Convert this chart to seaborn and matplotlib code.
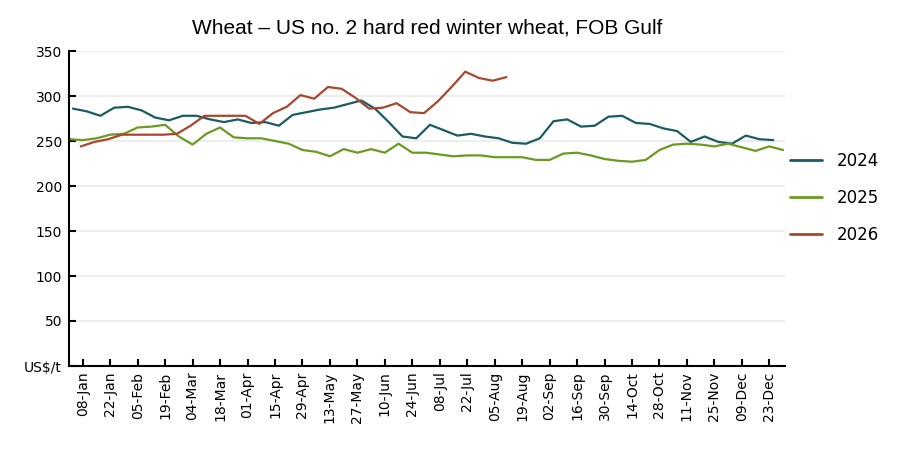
import numpy as np
import pandas as pd
import matplotlib
matplotlib.use("Agg")
import matplotlib.pyplot as plt
import seaborn as sns

# Weekly prices, US$/t
start_2024 = "2024-01-03"
start_2025 = "2025-01-01"
start_2026 = "2026-01-07"

price_2024 = [286, 283, 278, 287, 288, 284, 276, 273, 278, 278, 274, 271, 274,
              270, 271, 267, 279, 282, 285, 287, 291, 295, 286, 271, 255, 253,
              268, 262, 256, 258, 255, 253, 248, 247, 253, 272, 274, 266, 267,
              277, 278, 270, 269, 264, 261, 249, 255, 249, 247, 256, 252, 251]

price_2025 = [252, 251, 253, 257, 258, 265, 266, 268, 255, 246, 258, 265, 254,
              253, 253, 250, 247, 240, 238, 233, 241, 237, 241, 237, 247, 237,
              237, 235, 233, 234, 234, 232, 232, 232, 229, 229, 236, 237, 234,
              230, 228, 227, 229, 240, 246, 247, 246, 244, 247, 243, 239, 244,
              240]

price_2026 = [244, 249, 252, 257, 257, 257, 257, 258, 267, 278, 278, 278, 278,
              269, 281, 288, 301, 297, 310, 308, 298, 286, 287, 292, 282, 281,
              294, 310, 327, 320, 317, 321]

tick_labels = ["08-Jan", "22-Jan", "05-Feb", "19-Feb", "04-Mar", "18-Mar",
               "01-Apr", "15-Apr", "29-Apr", "13-May", "27-May", "10-Jun",
               "24-Jun", "08-Jul", "22-Jul", "05-Aug", "19-Aug", "02-Sep",
               "16-Sep", "30-Sep", "14-Oct", "28-Oct", "11-Nov", "25-Nov",
               "09-Dec", "23-Dec"]

colors = {"2024": "#1b5c62", "2025": "#6b9a22", "2026": "#a8472e"}


def year_frame(start, values, label):
    dates = pd.date_range(start, periods=len(values), freq="7D")
    return pd.DataFrame({"day": dates.dayofyear - 1,
                         "price": values,
                         "year": label})


df = pd.concat([
    year_frame(start_2024, price_2024, "2024"),
    year_frame(start_2025, price_2025, "2025"),
    year_frame(start_2026, price_2026, "2026"),
], ignore_index=True)

tick_days = pd.to_datetime([d + "-2024" for d in tick_labels],
                           format="%d-%b-%Y").dayofyear - 1

sns.set_theme(style="white")
plt.rcParams["font.family"] = ["DejaVu Sans"]

fig = plt.figure(figsize=(9, 4.5), dpi=100)
ax = fig.add_axes([69 / 900, 1 - 366 / 450, (785 - 69) / 900, (366 - 51) / 450])

sns.lineplot(data=df, x="day", y="price", hue="year", palette=colors,
             linewidth=1.6, ax=ax, legend=False)

ax.set_xlim(0, 365)
ax.set_ylim(0, 350)
ax.set_yticks(np.arange(0, 351, 50))
ax.set_yticklabels(["US$/t"] + [str(v) for v in range(50, 351, 50)])
ax.set_xticks(tick_days)
ax.set_xticklabels(tick_labels, rotation=90)
ax.set_xlabel("")
ax.set_ylabel("")

ax.yaxis.grid(True, color="#ededed", linewidth=1.5)
ax.set_axisbelow(True)
for side in ["top", "right"]:
    ax.spines[side].set_visible(False)
for side in ["left", "bottom"]:
    ax.spines[side].set_color("black")
    ax.spines[side].set_linewidth(1.5)

ax.tick_params(axis="both", direction="in", length=5, width=1.5,
               color="black", labelsize=10, labelcolor="black")
ax.tick_params(axis="y", pad=5, left=True)
ax.tick_params(axis="x", pad=4, bottom=True)

fig.text(0.475, 0.938, "Wheat \u2013 US no. 2 hard red winter wheat, FOB Gulf",
         ha="center", va="center", fontsize=15, family="Liberation Sans",
         color="black")

handles = [plt.Line2D([], [], color=colors[y], linewidth=2) for y in colors]
leg = fig.legend(handles, list(colors), loc="center left",
                 bbox_to_anchor=(790 / 900, 1 - 198 / 450), frameon=False,
                 fontsize=12, handlelength=1.9, handletextpad=0.9,
                 labelspacing=1.15, borderpad=0, borderaxespad=0)
for t in leg.get_texts():
    t.set_color("black")

fig.savefig("out.png", dpi=100)
